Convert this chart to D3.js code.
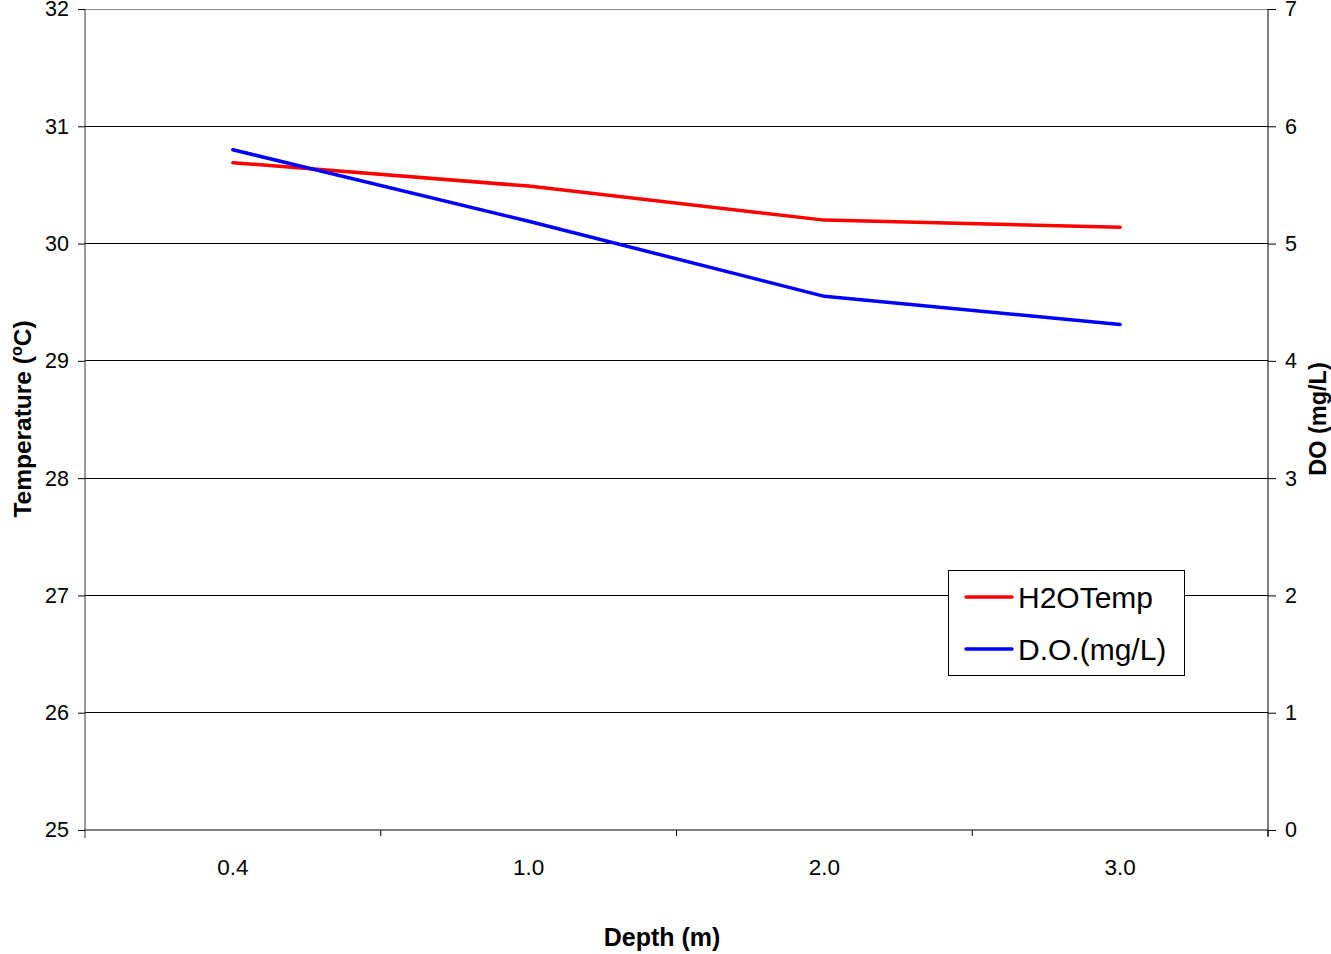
<!DOCTYPE html>
<html><head><meta charset="utf-8">
<script src="https://cdn.jsdelivr.net/npm/d3@7"></script>
<style>body{margin:0;background:#fff}svg{display:block;font-family:Arial,"Liberation Sans",sans-serif}</style>
</head><body><svg id="c" width="1331" height="954"></svg>
<script>
const categories = ["0.4","1.0","2.0","3.0"];
const tempValues = [30.69, 30.49, 30.20, 30.14];
const doValues = [5.80, 5.19, 4.55, 4.31];
const leftTicks = [25,26,27,28,29,30,31,32];
const rightTicks = [0,1,2,3,4,5,6,7];
const seriesNames = ["H2OTemp","D.O.(mg/L)"];

const FF = "Arial,'Liberation Sans',sans-serif";
const svg = d3.select("#c");
const L=85, R=1268, T=9, B=830;
const x = d3.scaleBand().domain(categories).range([L,R]);
const yL = d3.scaleLinear().domain([25,32]).range([B,T]);
const yR = d3.scaleLinear().domain([0,7]).range([B,T]);

// gridlines
svg.append("g").selectAll("line").data(leftTicks.filter(d=>d>25)).join("line")
  .attr("x1",L).attr("x2",R).attr("y1",d=>yL(d)).attr("y2",d=>yL(d))
  .attr("stroke",d=>d===32?"#888":"#000").attr("stroke-width",1).attr("shape-rendering","crispEdges");

// left axis
const gl = svg.append("g").attr("transform",`translate(${L},0)`)
  .call(d3.axisLeft(yL).tickValues(leftTicks).tickSize(7).tickPadding(9).tickFormat(d3.format("d")));
gl.select(".domain").attr("stroke","#333").attr("d",`M0,${T}V${B+8}`);
gl.selectAll("text").attr("font-size",21.5).attr("fill","#000").attr("font-family",FF);

// right axis
const gr = svg.append("g").attr("transform",`translate(${R},0)`)
  .call(d3.axisRight(yR).tickValues(rightTicks).tickSize(8).tickPadding(9).tickFormat(d3.format("d")));
gr.select(".domain").attr("stroke","#000").attr("d",`M0,${T}V${B+7}`);
gr.selectAll("text").attr("font-size",21.5).attr("fill","#000").attr("font-family",FF);

// bottom axis
const gb = svg.append("g").attr("transform",`translate(0,${B})`)
  .call(d3.axisBottom(x).tickSize(0).tickPadding(0));
gb.select(".domain").attr("stroke","#000").attr("d",`M${L},0H${R}`);
gb.selectAll("text").attr("font-size",22.5).attr("fill","#000").attr("font-family",FF).attr("dy",null).attr("y",45);
const bounds = categories.map(c=>x(c)).concat([R]);
gb.append("g").selectAll("line").data(bounds.slice(1)).join("line")
  .attr("x1",d=>d).attr("x2",d=>d).attr("y1",0).attr("y2",6).attr("stroke","#000");

// lines
const lineT = d3.line().x((d,i)=>x(categories[i])+x.bandwidth()/2).y(d=>yL(d));
const lineD = d3.line().x((d,i)=>x(categories[i])+x.bandwidth()/2).y(d=>yR(d));
svg.append("path").datum(tempValues).attr("d",lineT).attr("fill","none").attr("stroke","#ff0000").attr("stroke-width",3.5).attr("stroke-linejoin","round").attr("stroke-linecap","round");
svg.append("path").datum(doValues).attr("d",lineD).attr("fill","none").attr("stroke","#0000ff").attr("stroke-width",3.5).attr("stroke-linejoin","round").attr("stroke-linecap","round");

// axis titles
svg.append("text").attr("x",662).attr("y",946).attr("text-anchor","middle").attr("font-size",25).attr("font-weight","bold").text("Depth (m)");
const lt = svg.append("text").attr("transform","translate(31,419) rotate(-90)").attr("text-anchor","middle").attr("font-size",24.5).attr("font-weight","bold");
lt.append("tspan").text("Temperature (");
lt.append("tspan").attr("font-size",16).attr("dy",-9).text("o");
lt.append("tspan").attr("dy",9).text("C)");
svg.append("text").attr("transform","translate(1326,419) rotate(-90)").attr("text-anchor","middle").attr("font-size",23.5).attr("font-weight","bold").text("DO (mg/L)");

// legend
const lg = svg.append("g");
lg.append("rect").attr("x",948.5).attr("y",570.5).attr("width",236).attr("height",105).attr("fill","#fff").attr("stroke","#000").attr("stroke-width",1);
const colors=["#ff0000","#0000ff"];
seriesNames.forEach((n,i)=>{
  const yy = 597 + i*52;
  lg.append("line").attr("x1",966).attr("x2",1012).attr("y1",yy).attr("y2",yy).attr("stroke",colors[i]).attr("stroke-width",3.5).attr("stroke-linecap","round");
  lg.append("text").attr("x",1018).attr("y",yy+11).attr("font-size",30).attr("fill","#000").text(n);
});
</script></body></html>
